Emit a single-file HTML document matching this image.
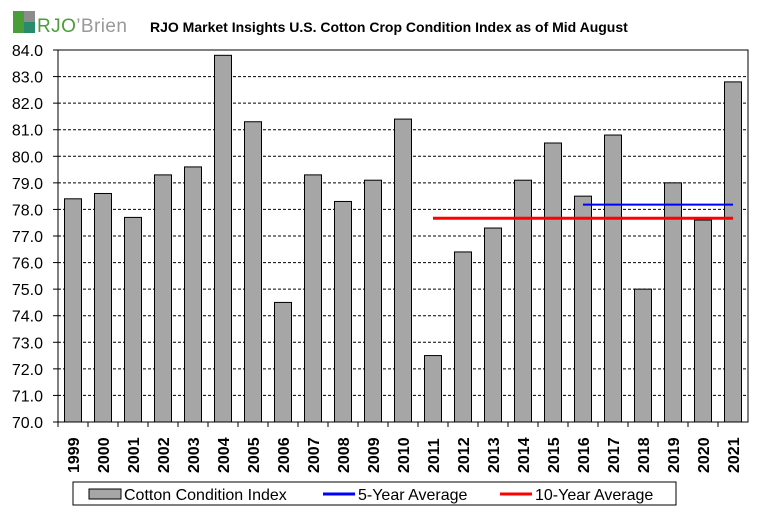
<!DOCTYPE html>
<html><head><meta charset="utf-8"><style>
body{margin:0;background:#fff;}
svg{display:block;font-family:"Liberation Sans",Arial,sans-serif;}
</style></head><body>
<svg id="c" width="763" height="516" viewBox="0 0 763 516">
<g>
<rect x="13" y="11" width="11" height="22" fill="#4a9e3a"/>
<rect x="24" y="11" width="11" height="11" fill="#8c8c8c"/>
<rect x="24" y="22" width="11" height="11" fill="#2a8a6e"/>
<text x="37" y="32" font-size="19" fill="#4a9e3a" textLength="90">RJO<tspan fill="#999">’Brien</tspan></text>
</g>
<text x="150" y="32" font-size="14" font-weight="bold">RJO Market Insights U.S. Cotton Crop Condition Index as of Mid August</text>
<g id="plot"></g>
<g>
<rect x="73" y="482" width="603" height="23" fill="#fff" stroke="#000"/>
<rect x="89" y="489" width="32" height="10" fill="#a6a6a6" stroke="#000"/>
<text x="124" y="500" font-size="16">Cotton Condition Index</text>
<line x1="323" y1="494" x2="355" y2="494" stroke="#0000ff" stroke-width="3"/>
<text x="358" y="500" font-size="16">5-Year Average</text>
<line x1="500" y1="494" x2="532" y2="494" stroke="#ff0000" stroke-width="3"/>
<text x="535" y="500" font-size="16">10-Year Average</text>
</g>
</svg>
<script>
const years=["1999","2000","2001","2002","2003","2004","2005","2006","2007","2008","2009","2010","2011","2012","2013","2014","2015","2016","2017","2018","2019","2020","2021"];
const values=[78.4,78.6,77.7,79.3,79.6,83.8,81.3,74.5,79.3,78.3,79.1,81.4,72.5,76.4,77.3,79.1,80.5,78.5,80.8,75.0,79.0,77.6,82.8];
const yTicks=[70,71,72,73,74,75,76,77,78,79,80,81,82,83,84];
const avg5=78.18, avg5Start="2016";
const avg10=77.67, avg10Start="2011";
const NS="http://www.w3.org/2000/svg";
const L=58,R=748,T=50,B=422,ymin=70,ymax=84;
const bw=(R-L)/years.length;
const y=v=>B-(v-ymin)/(ymax-ymin)*(B-T);
const xc=i=>L+bw*(i+0.5);
const g=document.getElementById('plot');
function mk(t,a){const e=document.createElementNS(NS,t);for(const k in a)e.setAttribute(k,a[k]);g.appendChild(e);return e;}
yTicks.forEach(v=>{
 if(v>ymin&&v<ymax){const e=mk('line',{x1:L,x2:R,y1:y(v),y2:y(v),stroke:'#000','stroke-dasharray':'3,2','stroke-width':1});
 
 }
 const tk=mk('line',{x1:L-5,x2:L,y1:y(v),y2:y(v),stroke:'#000'});
 
 
 const t=mk('text',{x:L-15,y:y(v)+6,'text-anchor':'end','font-size':16});
 t.textContent=v.toFixed(1);
 
 
});
const fr=mk('rect',{x:L,y:T,width:R-L,height:B-T,fill:'none',stroke:'#000'});


years.forEach((yr,i)=>{
 const r=mk('rect',{x:xc(i)-8.5,y:y(values[i]),width:17,height:B-y(values[i]),fill:'#a6a6a6',stroke:'#000'});
 
 
 const tk=mk('line',{x1:L+bw*i,x2:L+bw*i,y1:B,y2:B+5,stroke:'#000'});
 
 
 const t=mk('text',{x:0,y:0,'font-size':16,'font-weight':'bold',transform:`translate(${xc(i)+6},473) rotate(-90)`});
 t.textContent=yr;
 
 
});
const l10=mk('line',{x1:xc(years.indexOf(avg10Start)),x2:xc(years.length-1),y1:y(avg10),y2:y(avg10),stroke:'#ff0000','stroke-width':3});


const l5=mk('line',{x1:xc(years.indexOf(avg5Start)),x2:xc(years.length-1),y1:y(avg5),y2:y(avg5),stroke:'#0000ff','stroke-width':2});


</script>
</body></html>
